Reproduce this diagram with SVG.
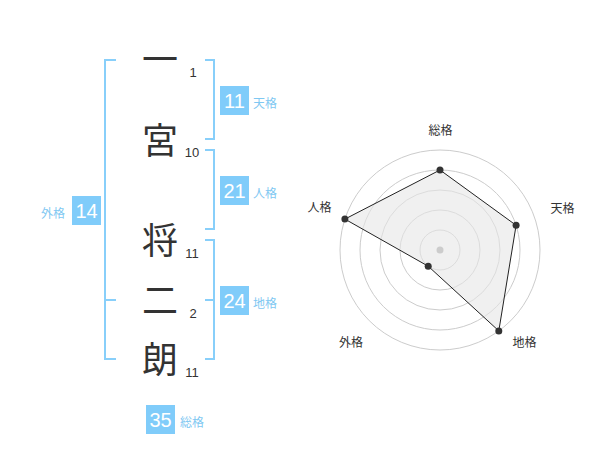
<svg xmlns="http://www.w3.org/2000/svg" width="600" height="470" viewBox="0 0 600 470">
<defs>
<style>
.br{fill:none;stroke:#88CFFA;stroke-width:2}
.box{fill:#80CCFA}
.bn{font-family:"Liberation Sans",Arial,sans-serif;font-size:20px;fill:#fff;text-anchor:middle}
.lb{font-family:"Noto Sans CJK JP","Noto Sans",sans-serif;font-size:12px;fill:#7FC8F2}
.ch{font-family:"Noto Sans CJK JP",sans-serif;font-size:36px;fill:#333;text-anchor:middle}
.num{font-family:"Liberation Sans",Arial,sans-serif;font-size:13px;fill:#333;text-anchor:middle}
.ring{fill:none;stroke:#ccc;stroke-width:1}
.rl{font-family:"Noto Sans CJK JP",sans-serif;font-size:12px;fill:#333;text-anchor:middle}
.pt{fill:#333}
</style>
</defs>
<rect width="600" height="470" fill="#fff"/>
<g id="connectors">
<path class="br" d="M116,60 H105 V359 H116 M105,300 H116"/>
<path class="br" d="M205,60 H214 V139 H205"/>
<path class="br" d="M205,150 H214 V229 H205"/>
<path class="br" d="M205,240 H214 V359 H205 M214,300 H205"/>
</g>
<g id="chars">
<text class="ch" x="160" y="73">一</text>
<text class="ch" x="160" y="154">宮</text>
<text class="ch" x="160" y="254">将</text>
<text class="ch" x="160" y="314">二</text>
<text class="ch" x="160" y="373">朗</text>
<text class="num" x="193" y="77">1</text>
<text class="num" x="192" y="157">10</text>
<text class="num" x="192" y="258">11</text>
<text class="num" x="193" y="318">2</text>
<text class="num" x="192" y="377">11</text>
</g>
<g id="tenkaku"><rect class="box" x="220" y="86" width="29" height="29"/><text class="bn" x="234.5" y="108">11</text><text class="lb" x="253" y="108">天格</text></g>
<g id="jinkaku"><rect class="box" x="220" y="176" width="29" height="29"/><text class="bn" x="234.5" y="198">21</text><text class="lb" x="253" y="198">人格</text></g>
<g id="chikaku"><rect class="box" x="220" y="286" width="29" height="29"/><text class="bn" x="234.5" y="308">24</text><text class="lb" x="253" y="308">地格</text></g>
<g id="gaikaku"><rect class="box" x="72" y="196" width="29" height="29"/><text class="bn" x="86.5" y="218">14</text><text class="lb" x="41" y="218">外格</text></g>
<g id="soukaku"><rect class="box" x="146" y="405" width="29" height="29"/><text class="bn" x="160.5" y="427">35</text><text class="lb" x="180" y="427">総格</text></g>
<g id="radar">
<circle class="ring" cx="440" cy="250" r="20"/>
<circle class="ring" cx="440" cy="250" r="40"/>
<circle class="ring" cx="440" cy="250" r="60"/>
<circle class="ring" cx="440" cy="250" r="80"/>
<circle class="ring" cx="440" cy="250" r="100"/>
<polygon points="440,170 516.1,225.3 498.8,330.9 428.2,266.2 344.9,219.1" fill="#e6e6e6" fill-opacity="0.6" stroke="#222" stroke-width="1"/>
<circle cx="440" cy="250" r="3.5" fill="#ccc"/>
<circle class="pt" cx="440" cy="170" r="3.5"/>
<circle class="pt" cx="516.1" cy="225.3" r="3.5"/>
<circle class="pt" cx="498.8" cy="330.9" r="3.5"/>
<circle class="pt" cx="428.2" cy="266.2" r="3.5"/>
<circle class="pt" cx="344.9" cy="219.1" r="3.5"/>
<text class="rl" x="440.5" y="135">総格</text>
<text class="rl" x="562.5" y="213">天格</text>
<text class="rl" x="319.5" y="212">人格</text>
<text class="rl" x="351" y="347">外格</text>
<text class="rl" x="524.5" y="347">地格</text>
</g>
</svg>
